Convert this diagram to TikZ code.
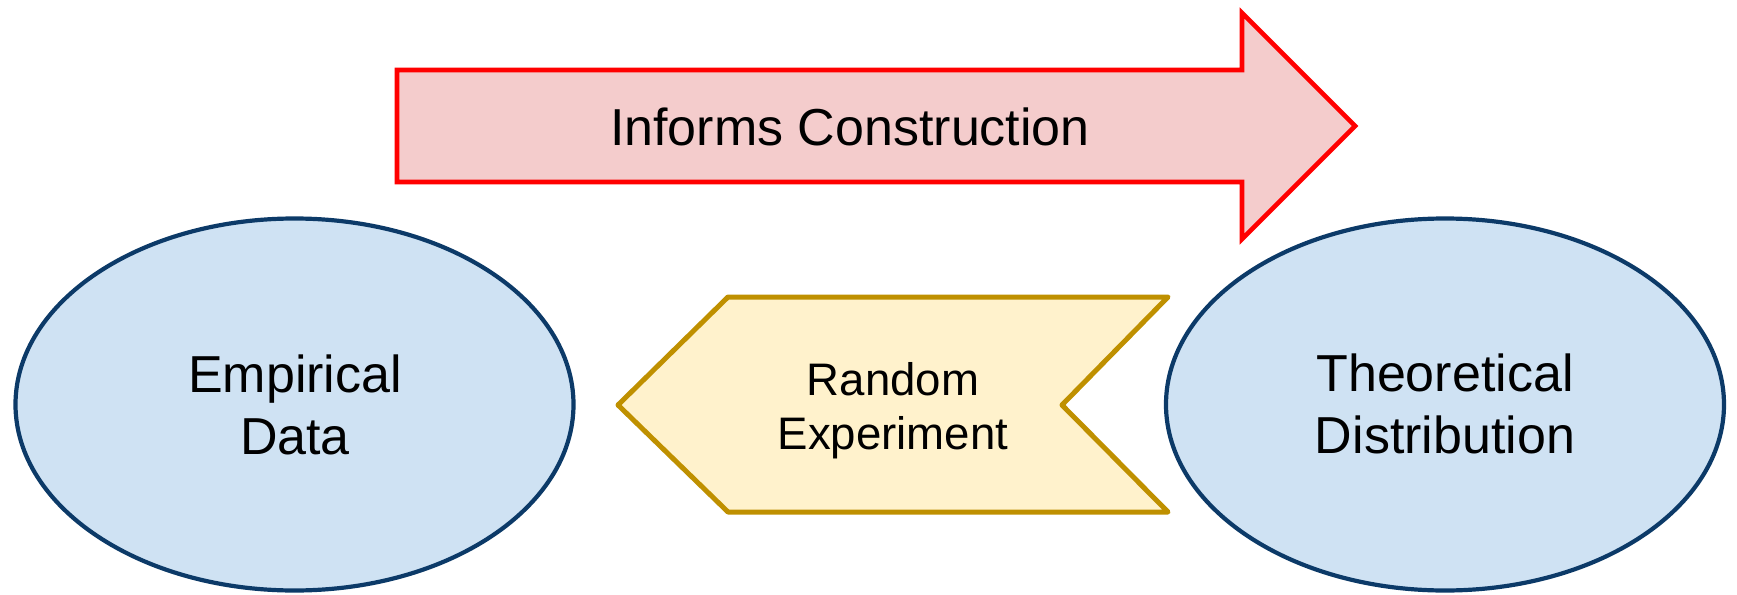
\documentclass[tikz,border=0pt]{standalone}
\usepackage{fontspec}
\setmainfont{Liberation Sans}
\usetikzlibrary{shapes.geometric}

\definecolor{arrowfill}{HTML}{F4CCCC}
\definecolor{arrowline}{HTML}{FF0000}
\definecolor{chevfill}{HTML}{FFF2CC}
\definecolor{chevline}{HTML}{BF9000}
\definecolor{blobfill}{HTML}{CFE2F3}
\definecolor{blobline}{HTML}{0C3A68}

\tikzset{
  bigarrow/.style={fill=arrowfill, draw=arrowline, line width=2.3pt, line join=miter},
  chevron/.style={fill=chevfill, draw=chevline, line width=2.5pt, line join=round},
  blob/.style={ellipse, fill=blobfill, draw=blobline, line width=2.1pt,
    minimum width=279pt, minimum height=186pt, inner sep=0pt},
  bigtext/.style={font=\fontsize{26}{31}\selectfont, align=center, inner sep=0pt, anchor=north},
  smalltext/.style={font=\fontsize{22.8}{27}\selectfont, align=center, inner sep=0pt, anchor=north}
}

\begin{document}
\begin{tikzpicture}[x=0.5pt, y=-0.5pt]
  \path[use as bounding box] (0,0) rectangle (1737,595);

  % outcome blobs
  \node[blob] (empirical) at (294.5,404.5) {};
  \node[blob] (theoretical) at (1445,404.5) {};

  % block arrow pointing right
  \draw[bigarrow] (397,70) -- (1242,70) -- (1242,13) -- (1355,126)
    -- (1242,239) -- (1242,182) -- (397,182) -- cycle;

  % chevron pointing left
  \draw[chevron] (618,405) -- (728,297) -- (1168,297) -- (1062,405)
    -- (1168,512) -- (728,512) -- cycle;

  % labels
  \node[bigtext] (informs) at (850,107) {Informs Construction};
  \node[bigtext] (emplabel) at (295,354) {Empirical\\Data};
  \node[bigtext] (theolabel) at (1445,353) {Theoretical\\Distribution};
  \node[smalltext] (randlabel) at (893,362) {Random\\Experiment};
\end{tikzpicture}
\end{document}
